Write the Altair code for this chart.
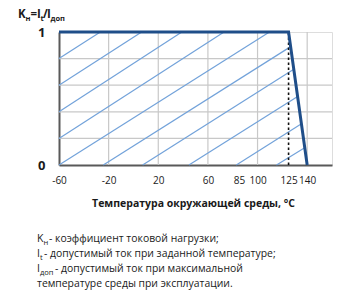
import altair as alt
import pandas as pd

# Load coefficient K = It / Iдоп versus ambient temperature
temp_c = [-60, 125, 140]
k_load = [1, 1, 0]

# Temperature at which derating starts (dashed marker)
derate_start = [125]

# Axis ticks and gridlines
x_ticks = [-60, -20, 20, 60, 85, 100, 125, 140]
y_ticks = [0, 1]
grid_x = [-20, 20, 60, 100, 140]
grid_y = [0.2, 0.4, 0.6, 0.8]

# Hatching inside the permitted operating region (segment end points)
hatch_x1 = [-60, -60, -60, -60, -60, -24.3, 7.4, 44.7, 82.9, 115.3]
hatch_y1 = [0.8, 0.6, 0.4, 0.2, 0, 0, 0, 0, 0, 0]
hatch_x2 = [-26.7, 6.6, 39, 73, 109.6, 126.7, 129.2, 132.3, 135.4, 138.0]
hatch_y2 = [1, 1, 1, 1, 1, 0.89, 0.72, 0.515, 0.31, 0.13]

x_title = "Температура окружающей среды, °С"
notes = [
    ["K", "н", "- коэффициент токовой нагрузки;"],
    ["I", "t", "- допустимый ток при заданной температуре;"],
    ["I", "доп", "- допустимый ток при максимальной"],
    ["", "", "температуре среды при эксплуатации."],
]

FONT = "Open Sans"
TEXT = "#1a1a1a"
W, H = 273, 133
PAD_L, PAD_T = 59, 32

xs = alt.Scale(domain=[-60, 160], nice=False, zero=False)
ys = alt.Scale(domain=[0, 1], nice=False)

# One axis definition shared by every layer so the merged axis keeps these settings
ax_x = alt.Axis(
    values=x_ticks, grid=False, ticks=False, domainColor="#595959", domainWidth=2,
    labelExpr="'' + datum.value", labelOverlap=False, labelFlush=False,
    labelFont=FONT, labelFontSize=10, labelColor=TEXT, labelPadding=10,
    title=x_title, titleFont=FONT, titleFontSize=10.5, titleFontWeight="bold",
    titleColor=TEXT, titlePadding=13, titleX=134, titleAnchor="middle",
)
ax_y = alt.Axis(
    values=y_ticks, grid=False, ticks=False, domainColor="#595959", domainWidth=2,
    labelExpr="'' + datum.value", labelFlush=False, labelOverlap=False,
    labelFont=FONT, labelFontSize=13, labelFontWeight="bold", labelColor=TEXT,
    labelPadding=14, title=None,
)

curve_df = pd.DataFrame({"t": temp_c, "k": k_load})
hatch_df = pd.DataFrame({"x1": hatch_x1, "y1": hatch_y1, "x2": hatch_x2, "y2": hatch_y2})
gx_df = pd.DataFrame({"x": grid_x})
gy_df = pd.DataFrame({"y": grid_y})
dash_df = pd.DataFrame({"x": derate_start, "y0": [0], "y1": [1]})

grid_v = alt.Chart(gx_df).mark_rule(color="#c8c8c8", strokeWidth=1.2).encode(
    x=alt.X("x:Q", scale=xs, axis=ax_x), y=alt.value(0), y2=alt.value(H)
)
grid_h = alt.Chart(gy_df).mark_rule(color="#c8c8c8", strokeWidth=1.2).encode(
    y=alt.Y("y:Q", scale=ys, axis=ax_y), x=alt.value(0), x2=alt.value(W)
)
hatch = alt.Chart(hatch_df).mark_rule(color="#72a2da", strokeWidth=1.2).encode(
    x=alt.X("x1:Q", scale=xs, axis=ax_x), y=alt.Y("y1:Q", scale=ys, axis=ax_y),
    x2="x2:Q", y2="y2:Q",
)
dash = alt.Chart(dash_df).mark_rule(color="#111111", strokeWidth=1.6, strokeDash=[2.5, 2.5]).encode(
    x=alt.X("x:Q", scale=xs, axis=ax_x), y=alt.Y("y0:Q", scale=ys, axis=ax_y), y2="y1:Q"
)
curve = alt.Chart(curve_df).mark_line(color="#1f4e89", strokeWidth=3).encode(
    x=alt.X("t:Q", scale=xs, axis=ax_x),
    y=alt.Y("k:Q", scale=ys, axis=ax_y),
)


def label(text, ax, ay, size, bold=False):
    """Text placed in page pixels (converted to plot-area offsets)."""
    return alt.Chart(pd.DataFrame({"s": [text]})).mark_text(
        align="left", baseline="alphabetic", font=FONT, fontSize=size,
        fontWeight="bold" if bold else "normal", color=TEXT,
    ).encode(x=alt.value(ax - PAD_L), y=alt.value(ay - PAD_T), text="s:N")


texts = [
    label("K", 18, 18, 11.5, True),
    label("н", 25.5, 21, 7.5, True),
    label("=", 30.5, 18, 11.5, True),
    label("I", 37, 18, 11.5, True),
    label("t", 40.5, 21, 7.5, True),
    label("/", 43, 18, 11.5, True),
    label("I", 47, 18, 11.5, True),
    label("доп", 50.5, 21, 7.5, True),
]

rows_y = [242, 257, 272, 287]
sub_x = [43.5, 40, 40, 0]
rest_x = [49, 44, 55, 37]
for (main, sub, rest), by, sx, rx in zip(notes, rows_y, sub_x, rest_x):
    if main:
        texts.append(label(main, 37, by, 10.5))
        texts.append(label(sub, sx, by + 2.5, 7.5))
    texts.append(label(rest, rx, by, 10.4))

chart = alt.layer(grid_v, grid_h, hatch, dash, curve, *texts).properties(
    width=W, height=H,
    autosize=alt.AutoSizeParams(type="none"),
    padding={"left": PAD_L, "top": PAD_T, "right": 340 - PAD_L - W, "bottom": 305 - PAD_T - H},
).configure_view(stroke="#8c8c8c", strokeWidth=1).configure(background="white")

chart.save("out.html", embed_options={"renderer": "svg", "actions": False})
